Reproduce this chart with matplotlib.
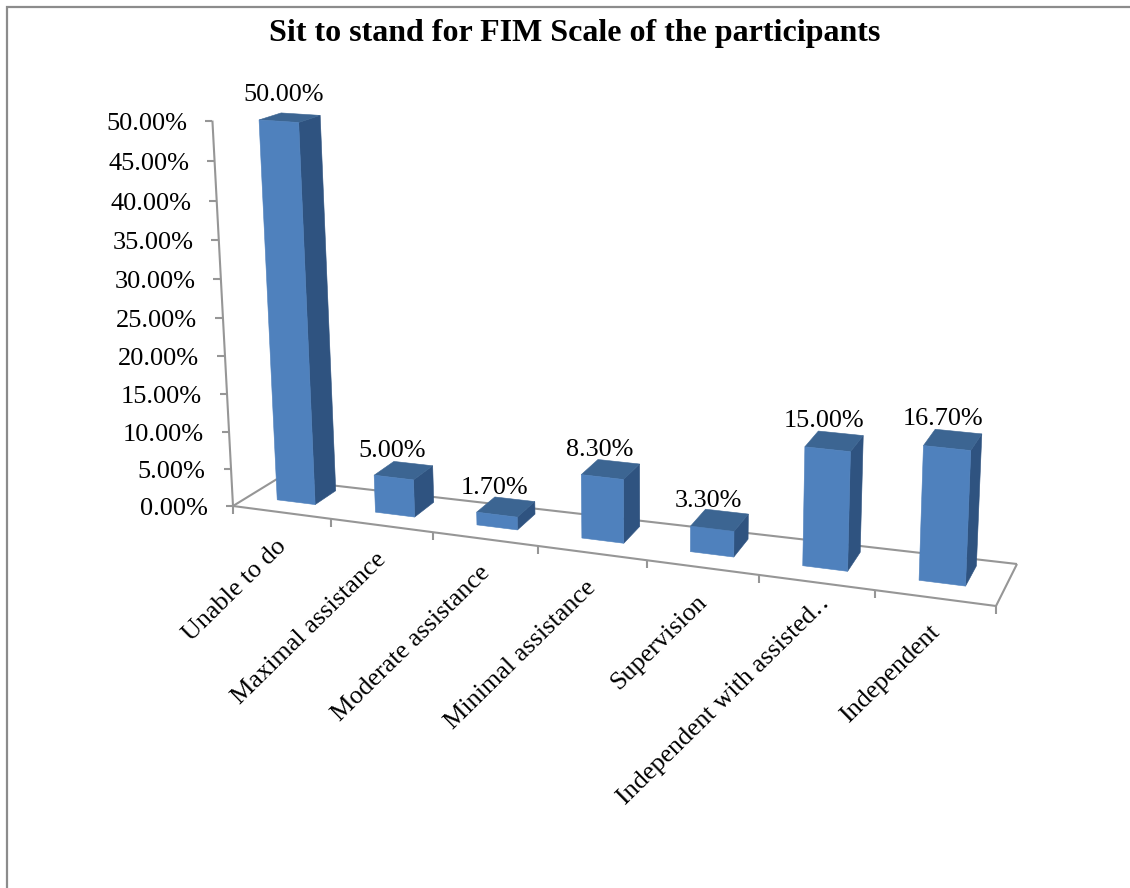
import numpy as np
import matplotlib
matplotlib.use("Agg")
import matplotlib.pyplot as plt
from matplotlib.patches import Polygon

# ---- data ----
categories = ["Unable to do", "Maximal assistance", "Moderate assistance",
              "Minimal assistance", "Supervision",
              "Independent with assisted\u2025", "Independent"]
values = [50.0, 5.0, 1.7, 8.3, 3.3, 15.0, 16.7]
value_labels = ["50.00%", "5.00%", "1.70%", "8.30%", "3.30%", "15.00%", "16.70%"]
y_ticks = [0, 5, 10, 15, 20, 25, 30, 35, 40, 45, 50]
title = "Sit to stand for FIM Scale of the participants"

# ---- style / camera ----
FRONT, SIDE, TOP = "#4F81BD", "#2F5380", "#3C6592"
GRID = "#969696"
FONT = ["Liberation Serif", "DejaVu Serif"]
FL, FR, BR, BL = [np.array(p, float) for p in ((233, 506), (996, 606), (1017, 564), (277, 479))]
VP = np.array([660.0, 8500.0])
K = 0.046
R = 1.126
Y_MAX = 50.0
N = len(categories)
BAR_U = (0.295, 0.685)
BAR_D = (0.36, 0.85)
LABEL_NUDGE = [(0, 0), (0, 0), (0, 0), (0, 0), (0, 0), (9, -14), (0, 0)]


def floor(cat, depth):
    u = cat / N
    t = u / (R * (1 - u) + u)
    front = FL + (FR - FL) * t
    back = BL + (BR - BL) * t
    return front + (back - front) * depth


def proj(cat, depth, val=0.0):
    p = floor(cat, depth)
    if val:
        h = val / Y_MAX
        m = 1.0
        if depth > 0:
            ref = floor(cat, BAR_D[0])
            p = ref + (p - ref) * np.array([1.0, 1 - 0.6 * h])
            m = 0.985 + 0.105 * (p[0] - 278) / 640
        s = 1 + m * (1 / (1 - K * h) - 1)
        p = VP + (p - VP) * s
    return p


fig = plt.figure(figsize=(11.3, 8.88), dpi=100)
ax = fig.add_axes([0, 0, 1, 1])
ax.set_xlim(0, 1130)
ax.set_ylim(888, 0)
ax.axis("off")

# outer frame
ax.plot([6.5, 6.5, 1130], [888, 7, 7], color="#8C8C8C", lw=1.6, solid_joinstyle="miter")


def line(a, b, lw=1.5):
    ax.plot([a[0], b[0]], [a[1], b[1]], color=GRID, lw=lw, solid_capstyle="butt", zorder=1)


# floor + axes
corners = [proj(0, 0), proj(N, 0), proj(N, 1), proj(0, 1)]
for i in range(4):
    line(corners[i], corners[(i + 1) % 4])
line(proj(0, 0), proj(0, 0, Y_MAX))

for t in y_ticks:
    p = proj(0, 0, t)
    line(p, p - np.array([7.5, 0]))
    ax.text(p[0] - 25.5, p[1] + 3, f"{t:.2f}%", ha="right", va="center",
            family=FONT, fontsize=19.0, color="black")

for i in range(N + 1):
    p = proj(i, 0)
    line(p, p + np.array([0, 8]))

# category labels
for i, c in enumerate(categories):
    p = proj(i + 0.5, 0)
    nx, ny = LABEL_NUDGE[i]
    ax.text(p[0] + 1 + nx, p[1] + 31 + ny, c, rotation=44.5, rotation_mode="anchor", ha="right",
            va="center", family=FONT, fontsize=18.8, color="black")

# bars
for i, (v, lab) in enumerate(zip(values, value_labels)):
    u0, u1 = i + BAR_U[0], i + BAR_U[1]
    d0, d1 = BAR_D
    fl, fr = proj(u0, d0), proj(u1, d0)
    bl, br = proj(u0, d1), proj(u1, d1)
    tfl, tfr = proj(u0, d0, v), proj(u1, d0, v)
    tbl, tbr = proj(u0, d1, v), proj(u1, d1, v)
    faces = [((fr, br, tbr, tfr), SIDE), ((tfl, tfr, tbr, tbl), TOP), ((fl, fr, tfr, tfl), FRONT)]
    for pts, col in faces:
        ax.add_patch(Polygon(np.array(pts), closed=True, fc=col, ec=col, lw=0.4, zorder=3 + i))
    c = (tfl + tfr + tbl + tbr) / 4
    h = v / Y_MAX
    ax.text(c[0] - 12 + 6 * h, c[1] - 19 - 4 * h, lab, ha="center", va="center", family=FONT,
            fontsize=18.8, color="black", zorder=20)

ax.text(575, 33, title, ha="center", va="center", family=FONT, fontweight="bold",
        fontsize=23, color="black")

fig.savefig("out.png", dpi=100)
